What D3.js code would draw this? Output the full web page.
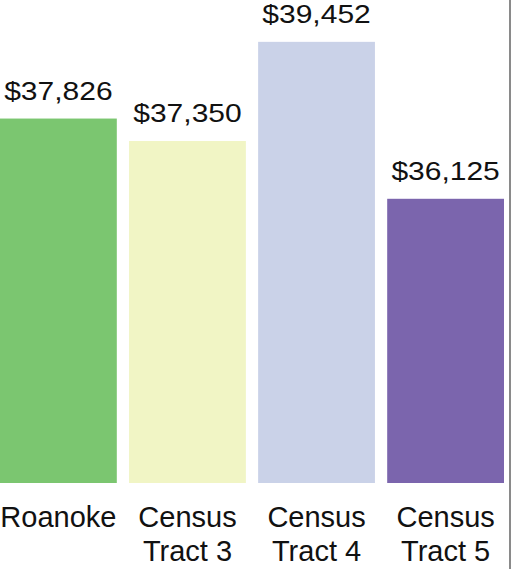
<!DOCTYPE html>
<html>
<head>
<meta charset="utf-8">
<script src="https://cdn.jsdelivr.net/npm/d3@7"></script>
<style>
  html, body { margin: 0; padding: 0; background: #fff; }
  svg { display: block; font-family: "Liberation Sans", Arial, sans-serif; }
</style>
</head>
<body>
<div class="chart"></div>
<script>
var svgWidth = 512;
var svgHeight = 569;

// data
var categories = ["Roanoke", "Census Tract 3", "Census Tract 4", "Census Tract 5"];
var incomes = [37826, 37350, 39452, 36125];
var barColors = ["#7bc670", "#f1f5c5", "#cad2e8", "#7b65ad"];

var margin = { top: 16, right: 8, bottom: 86, left: 0 };
var width = svgWidth - margin.left - margin.right;
var height = svgHeight - margin.top - margin.bottom;

var data = categories.map(function (c, i) {
  return { name: c, value: incomes[i], color: barColors[i] };
});

var svg = d3.select(".chart")
  .append("svg")
  .attr("width", svgWidth)
  .attr("height", svgHeight);

var chartGroup = svg.append("g")
  .attr("transform", `translate(${margin.left}, ${margin.top})`);

var xBandScale = d3.scaleBand()
  .domain(categories)
  .range([0, 504])
  .paddingInner(0.095)
  .paddingOuter(0);

// axis does not start at zero in the original
var yLinearScale = d3.scaleLinear()
  .domain([30100, 40000])
  .range([height, 0]);

var money = d3.format("$,");

chartGroup.selectAll(".bar")
  .data(data)
  .enter()
  .append("rect")
  .attr("class", "bar")
  .attr("x", d => xBandScale(d.name))
  .attr("y", d => yLinearScale(d.value))
  .attr("width", xBandScale.bandwidth())
  .attr("height", d => height - yLinearScale(d.value))
  .attr("fill", d => d.color);

// value labels (a bit wide in the source image)
chartGroup.selectAll(".val")
  .data(data)
  .enter()
  .append("text")
  .attr("class", "val")
  .attr("transform", d => `translate(${xBandScale(d.name) + xBandScale.bandwidth() / 2}, ${yLinearScale(d.value) - 19}) scale(1.2, 1)`)
  .attr("text-anchor", "middle")
  .attr("font-size", 25)
  .attr("fill", "#111")
  .text(d => money(d.value));

// category labels
var xAxis = chartGroup.append("g")
  .attr("transform", `translate(0, ${height})`)
  .call(d3.axisBottom(xBandScale).tickSize(0).tickPadding(0));

xAxis.select(".domain").remove();

xAxis.selectAll("text")
  .attr("font-size", 29)
  .attr("fill", "#111")
  .attr("font-family", "Liberation Sans, Arial, sans-serif")
  .attr("dy", null)
  .attr("y", 0)
  .each(function (d) {
    var t = d3.select(this);
    var words = d.split(" ");
    var lines = words.length > 1 ? [words[0], words.slice(1).join(" ")] : [d];
    t.text(null);
    lines.forEach(function (line, i) {
      t.append("tspan")
        .attr("x", 0)
        .attr("y", 44 + i * 34)
        .text(line);
    });
  });

// thin frame edge at the right
svg.append("line")
  .attr("x1", 510)
  .attr("x2", 510)
  .attr("y1", 0)
  .attr("y2", svgHeight)
  .attr("stroke", "#8a8a8a")
  .attr("stroke-width", 2);
</script>
</body>
</html>
